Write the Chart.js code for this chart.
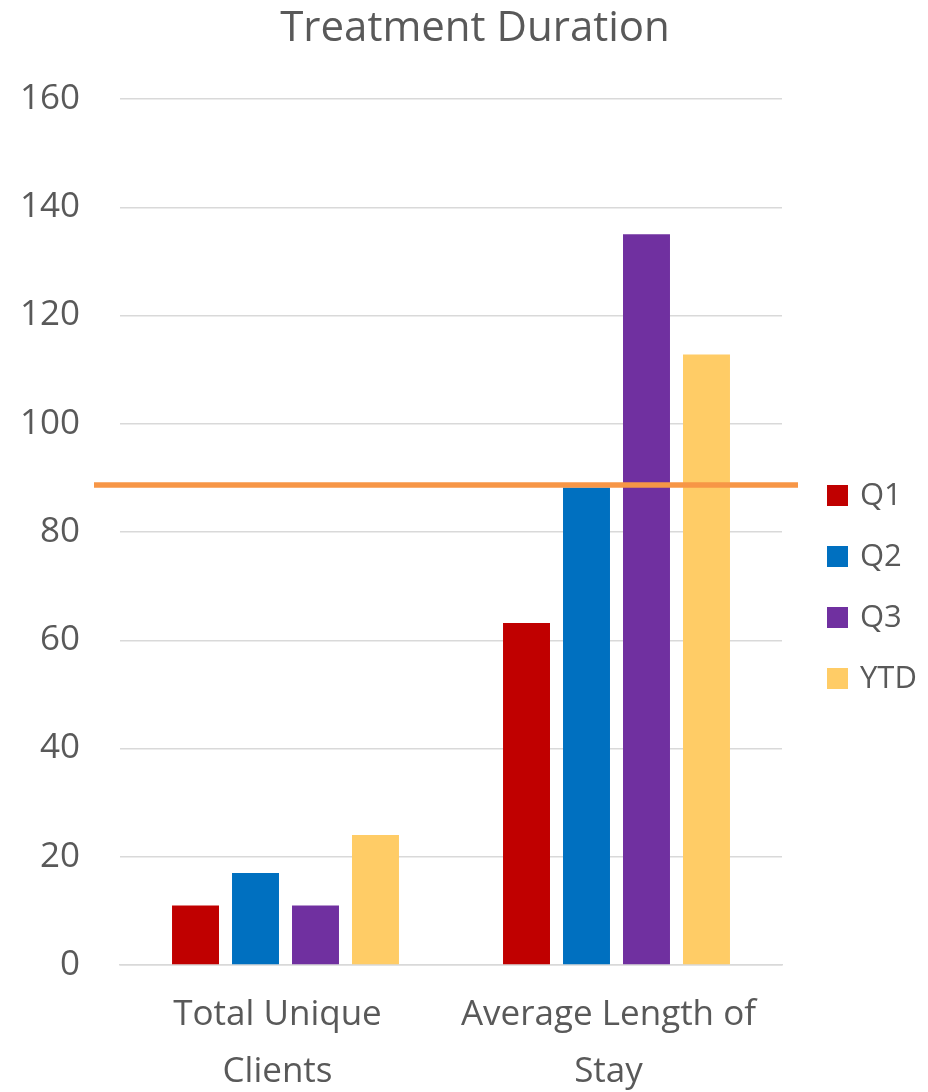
<!DOCTYPE html>
<html>
<head>
<meta charset="utf-8">
<script src="https://cdn.jsdelivr.net/npm/chart.js@4/dist/chart.umd.min.js"></script>
<style>
  html, body { margin: 0; padding: 0; background: #ffffff; overflow: hidden; }
  #wrap { width: 928px; height: 1092px; position: relative; }
</style>
</head>
<body>
<div id="wrap"><canvas id="c" width="928" height="1092"></canvas></div>
<script>
const categories = [["Total Unique", "Clients"], ["Average Length of", "Stay"]];
const seriesNames = ["Q1", "Q2", "Q3", "YTD"];
const q1Values = [11, 63.2];
const q2Values = [17, 88.2];
const q3Values = [11, 135];
const ytdValues = [24, 112.8];
const targetValue = 88.7;
const yTicks = [0, 20, 40, 60, 80, 100, 120, 140, 160];
const seriesColors = ["#C00000", "#0070C0", "#7030A0", "#FFCC66"];
const titleText = "Treatment Duration";

const FONT = "'Open Sans', 'Liberation Sans', sans-serif";
const TEXT = "#595959";

const seriesValues = [q1Values, q2Values, q3Values, ytdValues];

const targetLinePlugin = {
  id: 'targetLine',
  afterDatasetsDraw(chart) {
    const y = chart.scales.y.getPixelForValue(targetValue);
    const ca = chart.chartArea;
    const ctx = chart.ctx;
    ctx.save();
    ctx.strokeStyle = "#F79646";
    ctx.lineWidth = 5.5;
    ctx.beginPath();
    ctx.moveTo(ca.left - 26, y);
    ctx.lineTo(ca.right + 16, y);
    ctx.stroke();
    ctx.restore();
  }
};

const sideLegendPlugin = {
  id: 'sideLegend',
  afterDraw(chart) {
    const ca = chart.chartArea;
    const ctx = chart.ctx;
    const x0 = ca.right + 45;
    const y0 = ca.top + 386;
    const box = 21, pitch = 61;
    ctx.save();
    ctx.font = "31px " + FONT;
    ctx.textBaseline = "middle";
    ctx.textAlign = "left";
    chart.data.datasets.forEach((ds, i) => {
      const top = y0 + i * pitch;
      ctx.fillStyle = ds.backgroundColor;
      ctx.fillRect(x0, top, box, box);
      ctx.fillStyle = TEXT;
      ctx.fillText(ds.label, x0 + box + 12, top + box / 2 + 1);
    });
    ctx.restore();
  }
};

new Chart(document.getElementById('c'), {
  type: 'bar',
  data: {
    labels: categories,
    datasets: seriesNames.map((name, i) => ({
      label: name,
      data: seriesValues[i],
      backgroundColor: seriesColors[i],
      borderWidth: 0,
      categoryPercentage: 0.725,
      barPercentage: 0.783
    }))
  },
  options: {
    responsive: false,
    animation: false,
    devicePixelRatio: 1,
    layout: { padding: { left: 22, right: 0, top: 0, bottom: 0 } },
    plugins: {
      legend: { display: false },
      tooltip: { enabled: false },
      title: {
        display: true,
        text: titleText,
        color: TEXT,
        font: { family: FONT, size: 42, weight: 'normal', lineHeight: 1.2 },
        padding: { top: 3.5, bottom: 45.1 }
      }
    },
    scales: {
      x: {
        grid: { display: false, drawTicks: false },
        border: { display: true, color: "#D9D9D9", width: 1.5 },
        ticks: {
          color: TEXT,
          font: { family: FONT, size: 35, lineHeight: 57 / 35 },
          padding: 21.5,
          labelOffset: -8,
          maxRotation: 0,
          autoSkip: false
        },
        afterFit(s) { s.height = 127; }
      },
      y: {
        min: 0,
        max: 160,
        afterBuildTicks(s) { s.ticks = yTicks.map(v => ({ value: v })); },
        grid: { color: "#D9D9D9", lineWidth: 1.5, drawTicks: false },
        border: { display: false },
        ticks: {
          color: TEXT,
          font: { family: FONT, size: 35 },
          padding: 40
        },
        afterFit(s) { s.width = 98; }
      },
      yR: {
        position: 'right',
        display: true,
        grid: { display: false, drawTicks: false },
        border: { display: false },
        ticks: { display: false },
        afterFit(s) { s.width = 146; }
      }
    }
  },
  plugins: [targetLinePlugin, sideLegendPlugin]
});
</script>
</body>
</html>
